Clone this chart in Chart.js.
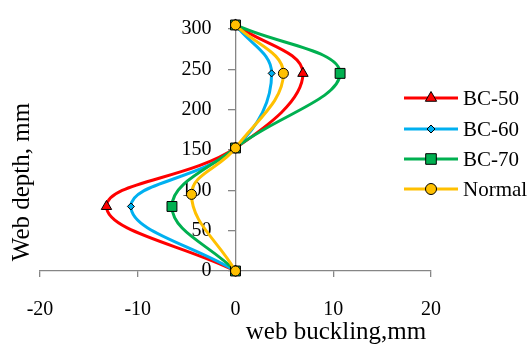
<!DOCTYPE html>
<html>
<head>
<meta charset="utf-8">
<script src="https://cdn.jsdelivr.net/npm/chart.js@4/dist/chart.umd.min.js"></script>
<style>
    html, body { margin: 0; padding: 0; background: #fff; }
    #wrap { position: relative; width: 528px; height: 345px; }
</style>
</head>
<body>
<div id="wrap"><canvas id="bucklingChart"></canvas></div>
<script>
// Web depth (mm) at each measured point, bottom to top
const depth = [0, 80, 152.5, 245, 305];
const depthNormal = [0, 95, 152.5, 245, 305];

// Lateral web buckling (mm) at each depth
const bc50 = [0, -13.2, 0, 6.9, 0];
const bc60 = [0, -10.7, 0, 3.7, 0];
const bc70 = [0, -6.5, 0, 10.7, 0];
const normal = [0, -4.5, 0, 4.9, 0];

const seriesNames = ['BC-50', 'BC-60', 'BC-70', 'Normal'];
const xTicks = [-20, -10, 0, 10, 20];
const yTicks = [0, 50, 100, 150, 200, 250, 300];

const AXIS_GREY = '#868686';
const SERIF = "'Liberation Serif', 'Times New Roman', serif";

function toPoints(xs, ys) {
    return xs.map((x, i) => ({ x: x, y: ys[i] }));
}

function series(label, xs, ys, color, style, radius, order) {
    return {
        label: label,
        data: toPoints(xs, ys),
        borderColor: color,
        backgroundColor: color,
        borderWidth: 3,
        tension: 0.4,
        pointStyle: style,
        pointRadius: radius,
        pointBackgroundColor: color,
        pointBorderColor: '#000',
        pointBorderWidth: 1,
        order: order,
        clip: false
    };
}

// legend drawn by hand: Excel puts it over the right side of the plot
const legendPlugin = {
    id: 'lineLegend',
    afterDraw(chart) {
        const ctx = chart.ctx;
        const rows = [98, 129, 159, 189];
        ctx.save();
        chart.data.datasets.forEach((ds, i) => {
            const y = rows[i];
            ctx.strokeStyle = ds.borderColor;
            ctx.lineWidth = 3;
            ctx.beginPath();
            ctx.moveTo(404, y);
            ctx.lineTo(458, y);
            ctx.stroke();
            ctx.fillStyle = ds.pointBackgroundColor;
            ctx.strokeStyle = '#000';
            ctx.lineWidth = 1;
            Chart.helpers.drawPoint(ctx, {
                pointStyle: ds.pointStyle,
                radius: ds.pointRadius + 0.5,
                borderWidth: 1,
                rotation: 0
            }, 431, y);
            ctx.fillStyle = '#000';
            ctx.font = '21px ' + SERIF;
            ctx.textAlign = 'left';
            ctx.textBaseline = 'middle';
            ctx.fillText(ds.label, 463, y + 1);
        });
        ctx.restore();
    }
};

const titlePlugin = {
    id: 'axisTitles',
    afterDraw(chart) {
        const ctx = chart.ctx;
        ctx.save();
        ctx.fillStyle = '#000';
        ctx.font = '25px ' + SERIF;
        ctx.textAlign = 'center';
        ctx.textBaseline = 'alphabetic';
        ctx.fillText('web buckling,mm', 336, 339);
        ctx.translate(22, 182);
        ctx.rotate(-Math.PI / 2);
        ctx.textBaseline = 'middle';
        ctx.fillText('Web depth, mm', 0, 0);
        ctx.restore();
    }
};

const ctx = document.getElementById('bucklingChart').getContext('2d');

new Chart(ctx, {
    type: 'line',
    data: {
        datasets: [
            series(seriesNames[0], bc50, depth, '#FF0000', 'triangle', 6, 3),
            series(seriesNames[1], bc60, depth, '#00B0F0', 'rectRot', 3.5, 2),
            series(seriesNames[2], bc70, depth, '#00B050', 'rect', 7, 1),
            series(seriesNames[3], normal, depthNormal, '#FFC000', 'circle', 5, 0)
        ]
    },
    options: {
        responsive: true,
        maintainAspectRatio: false,
        animation: false,
        events: [],
        layout: {
            padding: { left: 40, right: 97, top: 24, bottom: 2 }
        },
        plugins: {
            legend: { display: false },
            tooltip: { enabled: false }
        },
        scales: {
            x: {
                type: 'linear',
                min: -20,
                max: 20,
                afterBuildTicks: axis => { axis.ticks = xTicks.map(v => ({ value: v })); },
                ticks: {
                    color: '#000',
                    padding: 21,
                    font: { family: SERIF, size: 20 }
                },
                grid: {
                    drawOnChartArea: false,
                    drawTicks: true,
                    tickLength: 6,
                    color: AXIS_GREY,
                    lineWidth: 1.3
                },
                border: { display: true, color: AXIS_GREY, width: 1.3 }
            },
            y: {
                type: 'linear',
                // x runs -20..20, so the middle of the plot is x = 0
                position: 'center',
                min: 0,
                max: 300,
                afterBuildTicks: axis => { axis.ticks = yTicks.map(v => ({ value: v })); },
                ticks: {
                    color: '#000',
                    padding: 17,
                    font: { family: SERIF, size: 20 }
                },
                grid: {
                    drawOnChartArea: false,
                    drawTicks: true,
                    tickLength: 7,
                    color: AXIS_GREY,
                    lineWidth: 1.3
                },
                border: { display: true, color: AXIS_GREY, width: 1.3 }
            }
        }
    },
    plugins: [legendPlugin, titlePlugin]
});
</script>
</body>
</html>
